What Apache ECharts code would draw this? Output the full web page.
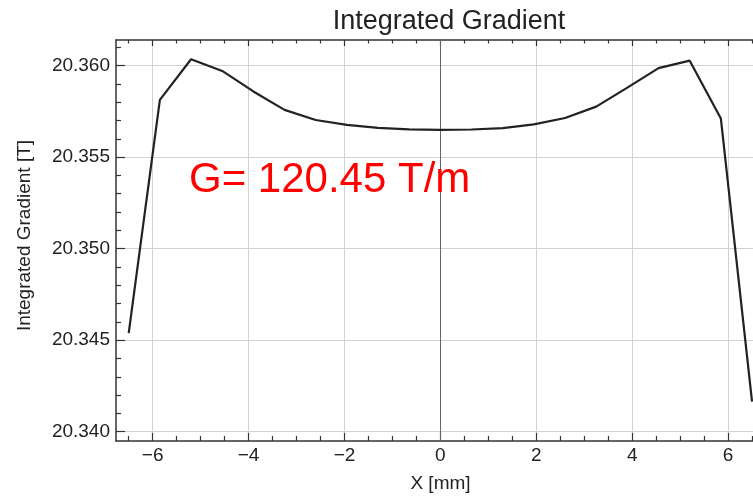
<!DOCTYPE html>
<html>
<head>
<meta charset="utf-8">
<script src="https://cdn.jsdelivr.net/npm/echarts@6/dist/echarts.min.js"></script>
<style>
html,body{margin:0;padding:0;background:#fff;}
#chart{width:753px;height:502px;}
</style>
</head>
<body>
<div id="chart"></div>
<script>
// Data
var xValues = [-6.5,-5.85,-5.2,-4.55,-3.9,-3.25,-2.6,-1.95,-1.3,-0.65,0,0.65,1.3,1.95,2.6,3.25,3.9,4.55,5.2,5.85,6.5];
var gradValues = [20.34538,20.35813,20.36035,20.35971,20.35859,20.35758,20.35703,20.35676,20.35660,20.35652,20.35649,
                  20.35651,20.35658,20.35679,20.35714,20.35776,20.35880,20.35986,20.36027,20.35711,20.34164];
var xMajorTicks = [-6,-4,-2,0,2,4,6];
var xMinorTicks = [-6.5,-5.5,-5,-4.5,-3.5,-3,-2.5,-1.5,-1,-0.5,0.5,1,1.5,2.5,3,3.5,4.5,5,5.5,6.5];
var yMajorTicks = [20.340,20.345,20.350,20.355,20.360];
var yMinorTicks = [20.341,20.342,20.343,20.344,20.346,20.347,20.348,20.349,20.351,20.352,20.353,20.354,20.356,20.357,20.358,20.359,20.361];
var titleText = 'Integrated Gradient';
var xName = 'X [mm]';
var yName = 'Integrated Gradient [T]';
var annotation = 'G= 120.45 T/m';

var FONT = '"Liberation Sans", Arial, sans-serif';
var XMIN = -6.765, XMAX = 6.52, YMIN = 20.33949, YMAX = 20.36140;
var frameColor = '#333';
var gridColor = '#d2d2d2';

var seriesData = xValues.map(function (x, i) { return [x, gradValues[i]]; });

function hiddenX(pos, ticks, len, showLine) {
  return {
    type: 'value', position: pos, min: XMIN, max: XMAX, gridIndex: 0,
    axisLine: { show: !!showLine, onZero: false, lineStyle: { color: frameColor, width: 1.5 } },
    axisTick: { show: true, inside: true, length: len, customValues: ticks, lineStyle: { color: frameColor, width: 1.2 } },
    axisLabel: { show: false },
    splitLine: { show: false }
  };
}

var option = {
  backgroundColor: '#fff',
  animation: false,
  title: {
    text: titleText, left: 444, top: 3, textAlign: 'center',
    textStyle: { fontFamily: FONT, fontSize: 27, fontWeight: 'normal', color: '#222' }
  },
  grid: { left: 116, top: 40, right: 0, bottom: 61, containLabel: false },
  xAxis: [
    {
      type: 'value', position: 'bottom', min: XMIN, max: XMAX,
      name: xName, nameLocation: 'middle', nameGap: 33,
      nameTextStyle: { fontFamily: FONT, fontSize: 19, color: '#222', padding: [0, 0, 0, 12] },
      axisLine: { show: true, onZero: false, lineStyle: { color: frameColor, width: 1.5 } },
      axisTick: { show: true, inside: true, length: 8, customValues: xMajorTicks, lineStyle: { color: frameColor, width: 1.2 } },
      axisLabel: {
        customValues: xMajorTicks, margin: 5, fontFamily: FONT, fontSize: 19, color: '#222',
        formatter: function (v) { return String(v).replace('-', '\u2212'); }
      },
      splitLine: { show: true, lineStyle: { color: gridColor, width: 1 } }
    },
    hiddenX('bottom', xMinorTicks, 5, false),
    hiddenX('top', xMajorTicks, 6, true),
    hiddenX('top', xMinorTicks, 3.5, false)
  ],
  yAxis: [
    {
      type: 'value', position: 'left', min: YMIN, max: YMAX,
      name: yName, nameLocation: 'middle', nameGap: 82,
      nameTextStyle: { fontFamily: FONT, fontSize: 19, color: '#222', padding: [0, 0, 0, 10] },
      axisLine: { show: true, onZero: false, lineStyle: { color: frameColor, width: 1.5 } },
      axisTick: { show: true, inside: true, length: 9, customValues: yMajorTicks, lineStyle: { color: frameColor, width: 1.2 } },
      axisLabel: {
        customValues: yMajorTicks, margin: 6, fontFamily: FONT, fontSize: 19, color: '#222',
        formatter: function (v) { return v.toFixed(3); }
      },
      splitLine: { show: true, lineStyle: { color: gridColor, width: 1 } }
    },
    {
      type: 'value', position: 'left', min: YMIN, max: YMAX,
      axisLine: { show: false, onZero: false },
      axisTick: { show: true, inside: true, length: 5, customValues: yMinorTicks, lineStyle: { color: frameColor, width: 1.2 } },
      axisLabel: { show: false },
      splitLine: { show: false }
    }
  ],
  graphic: [
    {
      type: 'text', left: 189, top: 159, z: 100,
      style: { text: annotation, fill: '#ff0000', font: '42px ' + FONT }
    }
  ],
  series: [
    {
      type: 'line', xAxisIndex: 0, yAxisIndex: 0,
      data: seriesData, showSymbol: false, symbol: 'none',
      lineStyle: { color: '#222', width: 2.2 },
      z: 5,
      markLine: {
        silent: true, symbol: 'none', label: { show: false },
        lineStyle: { color: '#666', width: 1, type: 'solid' },
        data: [{ xAxis: 0 }]
      }
    }
  ]
};

var chart = echarts.init(document.getElementById('chart'), null, { renderer: 'canvas' });
chart.setOption(option);
</script>
</body>
</html>
